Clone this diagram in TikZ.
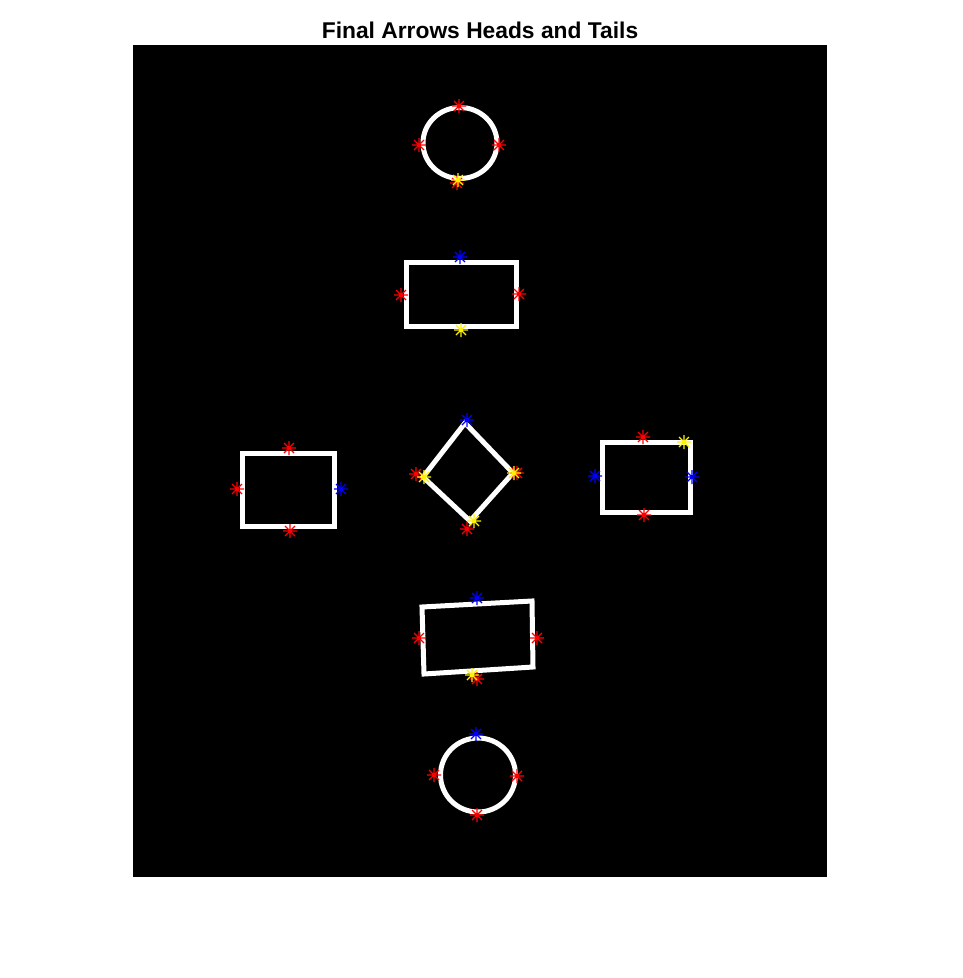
\documentclass[tikz,border=0pt]{standalone}
\usepackage{fontspec}
\setsansfont{Liberation Sans}
\usepackage{tikz}

\begin{document}
\begin{tikzpicture}[
  x=1pt, y=-1pt,
  outline/.style={draw=white, line width=5pt, line join=miter},
  pics/ast/.style={code={
    \draw[#1, line width=1.1pt] (-7,0) -- (7,0) (0,-7) -- (0,7)
      (-5,-5) -- (5,5) (-5,5) -- (5,-5);}}
]
\useasboundingbox[fill=white] (0,0) rectangle (962,978);
\fill[black] (133,45) rectangle (827,877);
\node[font=\sffamily\bfseries\fontsize{22.8}{27}\selectfont] (title) at (480,30) {Final Arrows Heads and Tails};

% shapes
\draw[outline] (460,143) ellipse [x radius=37, y radius=35.5];
\draw[outline] (406,262) rectangle (516,326);
\draw[outline] (465,423) -- (513,473) -- (470,521) -- (423,477) -- cycle;
\draw[outline] (242,453) rectangle (334,526);
\draw[outline] (602,442) rectangle (690,512);
\draw[outline] (422,607) -- (532,601) -- (533,667) -- (424,674) -- cycle;
\draw[outline] (478,775) ellipse [x radius=37.5, y radius=37];

% markers
\foreach \p in {(459,106), (419,145), (499,145), (457,183),
                (401,295), (519,294),
                (416,474), (517,473), (467,529),
                (289,448), (237,489), (290,531),
                (643,437), (644,515),
                (419,638), (537,638), (477,679),
                (434,775), (517,776), (477,815)}
  \pic at \p {ast=red};
\foreach \p in {(460,257), (467,420), (341,489), (595,476), (692,477), (477,598), (476,734)}
  \pic at \p {ast=blue};
\foreach \p in {(458,180), (461,330), (424,477), (514,473), (474,521), (684,442), (472,675)}
  \pic at \p {ast=yellow};
\end{tikzpicture}
\end{document}
